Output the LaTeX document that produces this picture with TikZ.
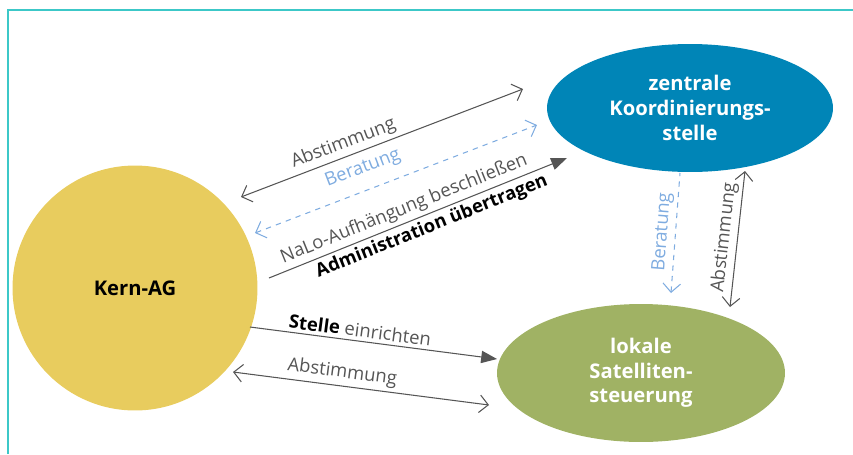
\documentclass[tikz,border=0pt]{standalone}
\usepackage{fontspec}
\setmainfont{Open Sans}
\usepackage{xcolor}
\usetikzlibrary{arrows.meta, positioning, shapes.geometric}
\definecolor{kerngelb}{RGB}{232,204,94}
\definecolor{zentralblau}{RGB}{0,133,183}
\definecolor{lokalgruen}{RGB}{160,178,100}
\definecolor{pfeilgrau}{RGB}{85,85,85}
\definecolor{beratungblau}{RGB}{127,172,224}
\definecolor{rahmen}{RGB}{60,200,200}

\begin{document}
\begin{tikzpicture}[
        x=0.02cm, y=-0.02cm,
        blob/.style={ellipse, inner sep=0pt, align=center, text=white,
                    font=\fontsize{11.5}{14}\selectfont\bfseries},
        lbl/.style={sloped, inner sep=2pt, text=pfeilgrau,
                    font=\fontsize{10.5}{12}\selectfont},
        both/.style={{Straight Barb[length=5pt,width=10pt]}-{Straight Barb[length=5pt,width=10pt]},
                    pfeilgrau, line width=0.6pt},
        one/.style={-{Triangle[length=9pt,width=7pt]}, pfeilgrau, line width=0.6pt},
        rat/.style={{Straight Barb[length=5pt,width=10pt]}-{Straight Barb[length=5pt,width=10pt]},
                    beratungblau, dashed, line width=0.6pt},
      ]
      \useasboundingbox (0,0) rectangle (853,454);
      \draw[rahmen, line width=1pt] (8,454) -- (8,10) -- (853,10);

      \node[circle, fill=kerngelb, minimum size=4.9cm, inner sep=0pt,
            font=\fontsize{11.5}{14}\selectfont\bfseries] (kern) at (135,288) {Kern-AG};
      \node[blob, fill=zentralblau, minimum width=5.72cm, minimum height=2.56cm] (zentral)
        at (690,108) {zentrale\\Koordinierungs-\\stelle};
      \node[blob, fill=lokalgruen, minimum width=5.76cm, minimum height=2.76cm] (lokal)
        at (641,373) {lokale\\Satelliten-\\steuerung};

      \coordinate (abA) at (241,197);  \coordinate (abB) at (523,89);
      \coordinate (beA) at (255,233);  \coordinate (beB) at (537,125);
      \coordinate (naA) at (269,278);  \coordinate (naB) at (567,158);
      \coordinate (vbA) at (680,173);  \coordinate (vbB) at (671,293);
      \coordinate (vaA) at (745,171);  \coordinate (vaB) at (730,307);
      \coordinate (stA) at (250,327);  \coordinate (stB) at (497,359);
      \coordinate (uaA) at (233,372);  \coordinate (uaB) at (489,405);

      \draw[both] (abA) -- node[lbl, above, pos=0.38] {Abstimmung} (abB);
      \draw[rat] (beA) -- node[lbl, above=5pt, pos=0.41, text=beratungblau] {Beratung} (beB);
      \draw[one] (naA) -- node[lbl, above, pos=0.47] {NaLo-Aufhängung beschließen}
        node[lbl, below, pos=0.53, text=black, font=\fontsize{10.5}{12}\selectfont\bfseries]
        {Administration übertragen} (naB);
      \draw[rat, {Straight Barb[length=5pt,width=10pt]}-] (vbB) --
        node[lbl, above, text=beratungblau] {Beratung} (vbA);
      \draw[both] (vaB) -- node[lbl, above] {Abstimmung} (vaA);
      \draw[one] (stA) -- node[lbl, above, pos=0.44] {\textcolor{black}{\bfseries Stelle} einrichten} (stB);
      \draw[both] (uaA) -- node[lbl, above, pos=0.42] {Abstimmung} (uaB);
    \end{tikzpicture}
\end{document}
